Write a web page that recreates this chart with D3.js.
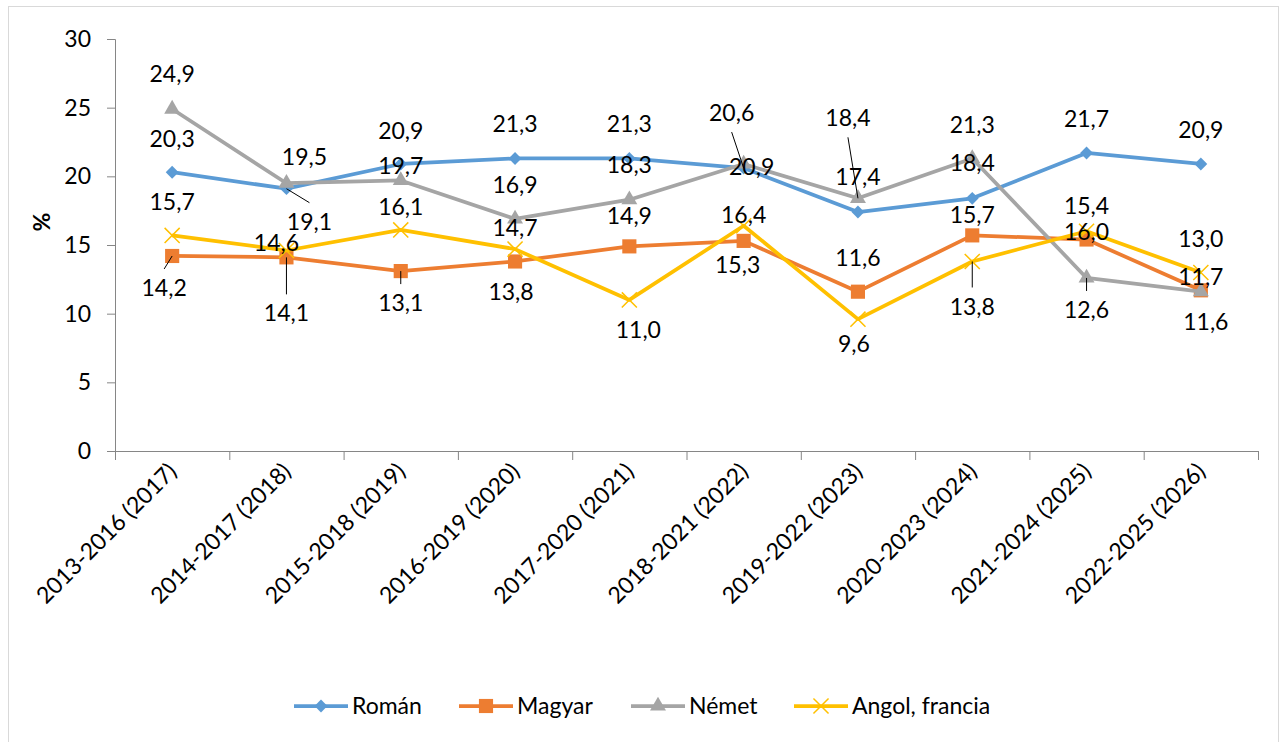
<!DOCTYPE html>
<html>
<head>
<meta charset="utf-8">
<script src="https://cdn.jsdelivr.net/npm/d3@7"></script>
<style>
  body { margin: 0; background: #fff; }
  text { font-family: Lato, "Open Sans", sans-serif; fill: #000; }
</style>
</head>
<body>
<div class="chart"></div>
<script>
// adatok
var categories = ["2013-2016 (2017)", "2014-2017 (2018)", "2015-2018 (2019)", "2016-2019 (2020)",
  "2017-2020 (2021)", "2018-2021 (2022)", "2019-2022 (2023)", "2020-2023 (2024)",
  "2021-2024 (2025)", "2022-2025 (2026)"];
var roman  = [20.3, 19.1, 20.9, 21.3, 21.3, 20.6, 17.4, 18.4, 21.7, 20.9];
var magyar = [14.2, 14.1, 13.1, 13.8, 14.9, 15.3, 11.6, 15.7, 15.4, 11.7];
var nemet  = [24.9, 19.5, 19.7, 16.9, 18.3, 20.9, 18.4, 21.3, 12.6, 11.6];
var angol  = [15.7, 14.6, 16.1, 14.7, 11.0, 16.4, 9.6, 13.8, 16.0, 13.0];
var seriesNames = ["Román", "Magyar", "Német", "Angol, francia"];
var yTicks = [0, 5, 10, 15, 20, 25, 30];

// címkék eltolása (dx, dy, vezetővonal)
var labelPos = [
  [[0,-33],[23,33,1],[0,-33],[0,-35],[0,-35],[-12,-55,1],[0,-35],[0,-35],[0,-34],[0,-34]],
  [[-8,32,1],[0,56,1],[0,32,1],[-4,30],[0,-30],[-6,24],[0,-34],[0,-20],[0,-34],[0,-13]],
  [[0,-35],[18,-26],[0,-15],[0,-34],[0,-35],[8,3],[-10,-80,1],[0,-34],[0,32,1],[5,30]],
  [[0,-33],[-10,-8],[0,-23],[0,-21],[9,30],[0,-11],[-4,25],[0,45,1],[0,1],[0,-34]]
];

var colors = ["#5B9BD5", "#ED7D31", "#A5A5A5", "#FFC000"];
var symbols = [d3.symbolDiamond2, d3.symbolSquare, d3.symbolTriangle, d3.symbolX];
var symSizes = [105, 200, 110, 150];
var fs = "23px";

var W = 1282, H = 742;
var mLeft = 115, mRight = 1258, mTop = 39, mBottom = 451;

var svg = d3.select(".chart").append("svg")
  .attr("width", W).attr("height", H);

// keret
svg.append("rect")
  .attr("x", 8.5).attr("y", 6.5)
  .attr("width", 1270).attr("height", 740)
  .attr("fill", "none").attr("stroke", "#D9D9D9");

var x = d3.scaleBand().domain(categories).range([mLeft, mRight]);
var xEdge = d3.scaleLinear().domain([0, categories.length]).range([mLeft, mRight]);
var y = d3.scaleLinear().domain([0, 30]).range([mBottom, mTop]);

// y tengely
var yAxis = svg.append("g")
  .attr("transform", "translate(" + mLeft + ",0)")
  .call(d3.axisLeft(y).tickValues(yTicks).tickSize(8).tickPadding(16));
yAxis.attr("font-family", null);
yAxis.selectAll("text").attr("font-size", fs).attr("fill", "#000");
yAxis.selectAll("line, path").attr("stroke", "#868686");

// x tengely
var xAxis = svg.append("g")
  .attr("transform", "translate(0," + mBottom + ")")
  .call(d3.axisBottom(xEdge).tickValues(d3.range(0, categories.length + 1)).tickFormat("").tickSize(9).tickSizeOuter(0));
xAxis.selectAll("line, path").attr("stroke", "#868686");

svg.append("g").selectAll("text")
  .data(categories)
  .enter().append("text")
  .attr("transform", function (d) {
    return "translate(" + (x(d) + x.bandwidth() / 2 + 6) + "," + (mBottom + 22) + ") rotate(-45)";
  })
  .attr("text-anchor", "end")
  .attr("font-size", fs)
  .text(function (d) { return d; });

// % felirat
svg.append("text")
  .attr("transform", "translate(50,222) rotate(-90)")
  .attr("text-anchor", "middle")
  .attr("font-size", fs)
  .attr("font-weight", "bold")
  .text("%");

var all = [roman, magyar, nemet, angol];
var cx = function (d, i) { return x(categories[i]) + x.bandwidth() / 2; };

var line = d3.line()
  .x(function (d, i) { return cx(d, i); })
  .y(function (d) { return y(d); });

function marker(sel, s) {
  sel.attr("d", d3.symbol().type(symbols[s]).size(symSizes[s]))
    .attr("fill", s == 3 ? "none" : colors[s])
    .attr("stroke", colors[s])
    .attr("stroke-width", s == 3 ? 1.5 : 0);
}

all.forEach(function (vals, s) {
  var g = svg.append("g");
  g.append("path")
    .datum(vals)
    .attr("d", line)
    .attr("fill", "none")
    .attr("stroke", colors[s])
    .attr("stroke-width", 3.75)
    .attr("stroke-linejoin", "round");

  g.selectAll(".pt")
    .data(vals)
    .enter().append("path")
    .attr("transform", function (d, i) { return "translate(" + cx(d, i) + "," + y(d) + ")"; })
    .call(marker, s);
});

// adatcímkék
all.forEach(function (vals, s) {
  var g = svg.append("g");
  vals.forEach(function (v, i) {
    var p = labelPos[s][i];
    var px = cx(v, i), py = y(v);
    var lx = px + p[0], ly = py + p[1];
    if (p[2]) {
      var sign = p[1] > 0 ? -1 : 1;
      g.append("line")
        .attr("x1", px).attr("y1", py)
        .attr("x2", lx).attr("y2", ly + sign * 19)
        .attr("stroke", "#000").attr("stroke-width", 1);
    }
    g.append("text")
      .attr("x", lx).attr("y", ly)
      .attr("dy", "0.35em")
      .attr("text-anchor", "middle")
      .attr("font-size", fs)
      .text(d3.format(".1f")(v).replace(".", ","));
  });
});

// jelmagyarázat
var legendX = [294, 459, 631, 794];
var legend = svg.append("g").attr("transform", "translate(0,706)");
seriesNames.forEach(function (name, s) {
  var lg = legend.append("g").attr("transform", "translate(" + legendX[s] + ",0)");
  lg.append("line").attr("x1", 0).attr("x2", 54).attr("y1", 0).attr("y2", 0)
    .attr("stroke", colors[s]).attr("stroke-width", 3.75);
  lg.append("path")
    .attr("transform", "translate(27,0)")
    .call(marker, s);
  lg.append("text").attr("x", 58).attr("dy", "0.35em")
    .attr("font-size", fs).text(name);
});
</script>
</body>
</html>
